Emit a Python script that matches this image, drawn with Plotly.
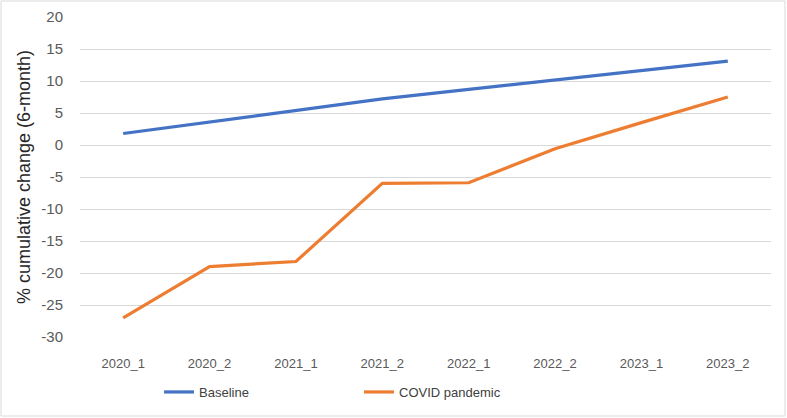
import plotly.graph_objs as go

periods = ["2020_1", "2020_2", "2021_1", "2021_2", "2022_1", "2022_2", "2023_1", "2023_2"]
baseline = [1.8, 3.6, 5.4, 7.2, 8.7, 10.2, 11.7, 13.1]
covid = [-27.0, -19.0, -18.2, -6.0, -5.9, -0.6, 3.5, 7.5]
y_ticks = [-30, -25, -20, -15, -10, -5, 0, 5, 10, 15, 20]

W, H = 787, 418
L, R, T, B = 80, 16, 17, 81
pw, ph = W - L - R, H - T - B

fig = go.Figure()
fig.add_trace(go.Scatter(x=periods, y=baseline, mode="lines", name="Baseline",
                         line=dict(color="#4472C4", width=3.2)))
fig.add_trace(go.Scatter(x=periods, y=covid, mode="lines", name="COVID pandemic",
                         line=dict(color="#ED7D31", width=3.2)))

fig.update_layout(
    width=W, height=H,
    margin=dict(l=L, r=R, t=T, b=B, autoexpand=False),
    paper_bgcolor="white", plot_bgcolor="white",
    font=dict(family="Liberation Sans, Arial, sans-serif", size=14, color="#595959"),
    xaxis=dict(type="category", range=[-0.5, 7.5], showgrid=False, zeroline=False,
               showline=False, ticks="", automargin=False, ticklabelstandoff=17,
               tickfont=dict(size=13, color="#595959")),
    yaxis=dict(range=[-30, 20], tickvals=y_ticks, ticktext=[str(v) for v in y_ticks],
               showgrid=True, gridcolor="#D9D9D9", gridwidth=1,
               zeroline=False, showline=False, ticks="", ticklabelstandoff=16,
               automargin=False, tickfont=dict(size=15, color="#595959"),
               title=dict(text="% cumulative change (6-month)", standoff=6,
                          font=dict(size=18, color="#262626"))),
    legend=dict(orientation="h", x=(159 - L) / pw, xanchor="left",
                y=-(392 - (T + ph)) / ph, yanchor="middle",
                itemwidth=30, entrywidth=155,
                font=dict(size=13, color="#404040")),
    shapes=[dict(type="rect", xref="paper", yref="paper",
                 x0=-(L - 1) / pw, x1=1 + (R - 2) / pw,
                 y0=-(B - 2) / ph, y1=1 + (T - 1) / ph,
                 line=dict(color="#D9D9D9", width=1))],
)

# the page's default 8px body margin would shift the chart, so drop it
fig.write_html("out.html", config={"displayModeBar": False},
               post_script="document.body.style.margin = '0px';")
